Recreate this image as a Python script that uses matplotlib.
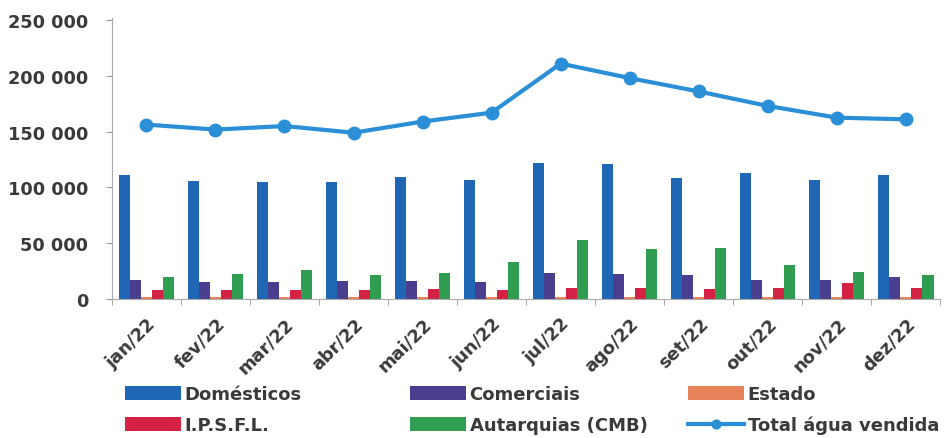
import numpy as np
import matplotlib.pyplot as plt
from matplotlib.ticker import FuncFormatter

months = ["jan/22", "fev/22", "mar/22", "abr/22", "mai/22", "jun/22",
          "jul/22", "ago/22", "set/22", "out/22", "nov/22", "dez/22"]
domesticos = [110700, 105400, 105000, 104500, 109000, 107000,
              122000, 121000, 108000, 113000, 107000, 111500]
comerciais = [17000, 15500, 15000, 16000, 16000, 15000,
              23000, 22000, 21000, 17000, 17000, 20000]
estado = [1500, 1500, 1500, 1500, 1500, 1500,
          2000, 2000, 2000, 1500, 1500, 1500]
ipsfl = [7500, 8000, 7500, 8000, 9000, 8000,
         10000, 9500, 9000, 10000, 14000, 10000]
autarquias = [20000, 22500, 26000, 21000, 23500, 33000,
              53000, 45000, 46000, 30500, 24500, 21000]
total = [156300, 151800, 155000, 149000, 159000, 167000,
         211000, 198000, 186000, 173000, 162500, 161000]

plt.rcParams['font.family'] = ['DejaVu Sans']
txt = '#3a3a3a'

fig = plt.figure(figsize=(9.48, 4.39), dpi=100)
ax = fig.add_axes([0.118, 0.317, 0.874, 0.64])

x = np.arange(len(months))
w = 0.16
series = [(domesticos, '#1f67b5', 'Domésticos'),
          (comerciais, '#4a3f8e', 'Comerciais'),
          (estado, '#e8825a', 'Estado'),
          (ipsfl, '#d42244', 'I.P.S.F.L.'),
          (autarquias, '#2f9e50', 'Autarquias (CMB)')]
handles = {}
for i, (vals, col, lab) in enumerate(series):
    handles[lab] = ax.bar(x + (i - 2) * w, vals, width=w, color=col, label=lab)
line, = ax.plot(x, total, color='#2a8fd6', lw=3, marker='o', ms=9,
                label='Total água vendida')
handles['Total água vendida'] = line

ax.set_xlim(-0.5, 11.5)
ax.set_ylim(0, 252000)
ax.set_yticks(range(0, 250001, 50000))
ax.yaxis.set_major_formatter(FuncFormatter(lambda v, p: f"{int(v):,}".replace(",", " ")))
ax.set_xticks(x)
ax.set_xticks(np.arange(-0.5, 12, 1), minor=True)
ax.set_xticklabels(months, rotation=45, ha='right', rotation_mode='anchor')
ax.tick_params(axis='both', colors='#999999', labelcolor=txt, labelsize=12.8, length=4)
ax.tick_params(axis='y', pad=13)
ax.tick_params(axis='x', which='major', length=0, pad=11)
ax.tick_params(axis='x', which='minor', length=4, color='#999999')
for lab in ax.get_xticklabels() + ax.get_yticklabels():
    lab.set_fontweight('bold')
for s in ['top', 'right']:
    ax.spines[s].set_visible(False)
for s in ['left', 'bottom']:
    ax.spines[s].set_color('#aaaaaa')

# one legend per column, as in the original layout
columns = [(125, ['Domésticos', 'I.P.S.F.L.']),
           (410, ['Comerciais', 'Autarquias (CMB)']),
           (688, ['Estado', 'Total água vendida'])]
for xpix, labs in columns:
    leg = fig.legend([handles[k] for k in labs], labs, loc='upper left',
                     bbox_to_anchor=(xpix / 948, 1 - 386 / 439),
                     frameon=False, borderaxespad=0, borderpad=0,
                     prop={'size': 13, 'weight': 'bold'}, handlelength=3.1,
                     handleheight=0.85, handletextpad=0.2,
                     labelspacing=0.72, markerscale=0.7)
    for t in leg.get_texts():
        t.set_color(txt)

fig.savefig('out.png', dpi=100)
